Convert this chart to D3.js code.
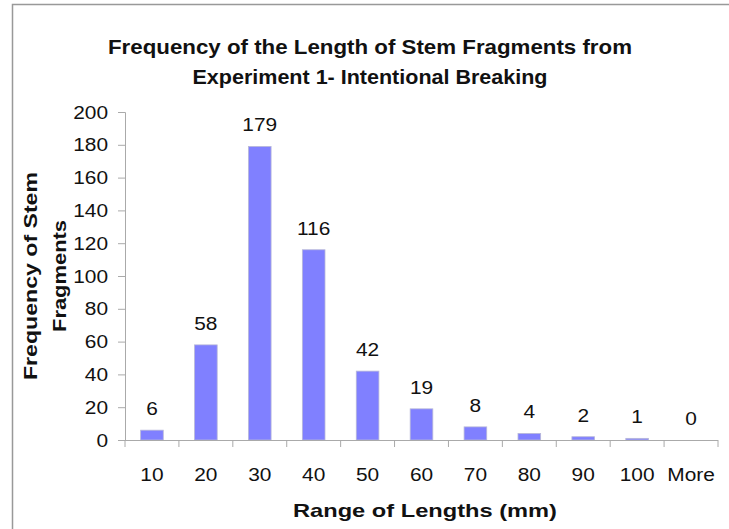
<!DOCTYPE html>
<html><head><meta charset="utf-8">
<script src="https://cdn.jsdelivr.net/npm/d3@7"></script>
<style>html,body{margin:0;padding:0;background:#fff;overflow:hidden;}svg{display:block;font-family:"Liberation Sans",Arial,sans-serif;}</style>
</head><body>
<script>
const categories = ["10","20","30","40","50","60","70","80","90","100","More"];
const frequencies = [6,58,179,116,42,19,8,4,2,1,0];
const yTicks = [0,20,40,60,80,100,120,140,160,180,200];
const titleLines = ["Frequency of the Length of Stem Fragments from","Experiment 1- Intentional Breaking"];
const yTitleLines = ["Frequency of Stem","Fragments"];
const xTitle = "Range of Lengths (mm)";

const W = 729, H = 529;
const SX = 1.16; // horizontal stretch of label glyphs seen in the reference
const svg = d3.select("body").append("svg").attr("width", W).attr("height", H);

// frame
svg.append("rect").attr("x", 12.5).attr("y", 4.5).attr("width", W + 20).attr("height", H + 20)
  .attr("fill", "none").attr("stroke", "#999").attr("stroke-width", 1.5);

const x0 = 125, x1 = 718, yTop = 112, yBot = 440;
const x = d3.scaleBand().domain(categories).range([x0, x1]).paddingInner(0.58).paddingOuter(0.29);
const y = d3.scaleLinear().domain([0, 200]).range([yBot, yTop]);

// bars
svg.append("g").selectAll("rect").data(frequencies).join("rect")
  .attr("x", (d, i) => x(categories[i]))
  .attr("y", d => y(d))
  .attr("width", x.bandwidth())
  .attr("height", d => yBot - y(d))
  .attr("fill", "#8080ff")
  .attr("stroke", "#b8b8d8").attr("stroke-width", 0.8);

// value labels
svg.append("g").selectAll("text").data(frequencies).join("text")
  .attr("transform", (d, i) => `translate(${x(categories[i]) + x.bandwidth() / 2},${y(d) - 15}) scale(${SX},1)`)
  .attr("text-anchor", "middle").attr("font-size", 18).attr("fill", "#111")
  .text(d => d);

// y axis
const yAxis = d3.axisLeft(y).tickValues(yTicks).tickSize(7).tickFormat("");
const gy = svg.append("g").attr("transform", `translate(${x0},0)`).call(yAxis);
gy.selectAll("path,line").attr("stroke", "#aaa");
svg.append("g").selectAll("text").data(yTicks).join("text")
  .attr("transform", d => `translate(108,${y(d) + 6.5}) scale(${SX},1)`)
  .attr("text-anchor", "end").attr("font-size", 18).attr("fill", "#111")
  .text(d => d);

// x axis: ticks at band boundaries
const step = (x1 - x0) / categories.length;
const boundaries = d3.range(categories.length + 1).map(i => x0 + i * step);
const gx = svg.append("g");
gx.append("line").attr("x1", x0).attr("x2", x1).attr("y1", yBot + 0.5).attr("y2", yBot + 0.5).attr("stroke", "#aaa");
gx.selectAll("line.t").data(boundaries).join("line").attr("class", "t")
  .attr("x1", d => d).attr("x2", d => d).attr("y1", yBot).attr("y2", yBot + 7).attr("stroke", "#aaa");
gx.selectAll("text").data(categories).join("text")
  .attr("transform", d => `translate(${x(d) + x.bandwidth() / 2},481) scale(${SX},1)`)
  .attr("text-anchor", "middle").attr("font-size", 18).attr("fill", "#111")
  .text(d => d);

// titles
const titleWidths = [524, 355];
svg.append("g").selectAll("text").data(titleLines).join("text")
  .attr("x", 370).attr("y", (d, i) => 54 + i * 30)
  .attr("text-anchor", "middle").attr("font-size", 21).attr("font-weight", "bold").attr("fill", "#111")
  .attr("textLength", (d, i) => titleWidths[i]).attr("lengthAdjust", "spacingAndGlyphs")
  .text(d => d);

svg.append("text").attr("x", 425).attr("y", 517).attr("text-anchor", "middle")
  .attr("font-size", 19).attr("font-weight", "bold").attr("fill", "#111")
  .attr("textLength", 264).attr("lengthAdjust", "spacingAndGlyphs").text(xTitle);

const yTitleWidths = [208, 112];
svg.append("g").selectAll("text").data(yTitleLines).join("text")
  .attr("transform", (d, i) => `translate(${37 + i * 29},276) rotate(-90)`)
  .attr("text-anchor", "middle").attr("font-size", 19).attr("font-weight", "bold").attr("fill", "#111")
  .attr("textLength", (d, i) => yTitleWidths[i]).attr("lengthAdjust", "spacingAndGlyphs")
  .text(d => d);
</script>
</body></html>
